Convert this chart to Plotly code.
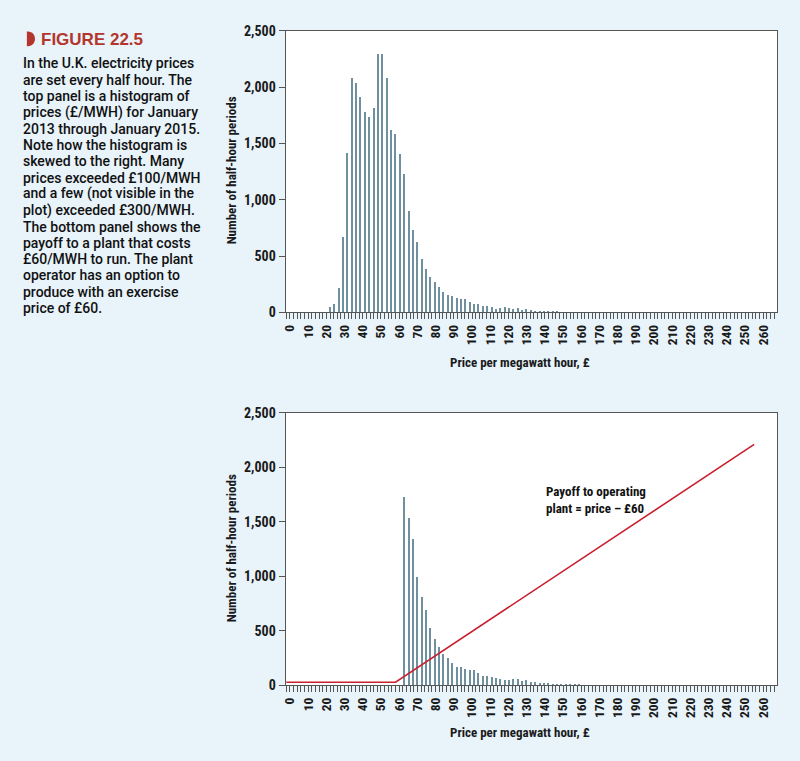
import plotly.graph_objects as go

# ---------------- data ----------------
bin_centers = [21.8, 24.2, 26.6, 29.0, 31.4, 33.8, 36.2, 38.6, 41.0, 43.4,
               45.8, 48.2, 50.6, 53.0, 55.4, 57.8, 60.2, 62.6, 65.0, 67.4,
               69.8, 72.2, 74.6, 77.0, 79.4, 81.8, 84.2, 86.6, 89.0, 91.4,
               93.8, 96.2, 98.6, 101.0, 103.4, 105.8, 108.2, 110.6, 113.0, 115.4,
               117.8, 120.2, 122.6, 125.0, 127.4, 129.8, 132.2, 134.6, 137.0, 139.4,
               141.8, 144.2, 146.6, 149.0, 151.4, 153.8, 156.2, 158.6, 161.0, 163.4]

top_counts = [49, 75, 220, 668, 1418, 2086, 2037, 1916, 1780, 1736,
              1820, 2298, 2298, 2086, 1620, 1586, 1412, 1233, 906, 738,
              631, 477, 385, 315, 269, 229, 185, 153, 148, 130,
              124, 123, 95, 75, 73, 63, 55, 52, 35, 41,
              46, 43, 32, 41, 23, 29, 20, 17, 14, 12,
              9, 17, 6, 5, 5, 4, 3, 3, 2, 2]

bottom_centers = [62.6, 65.0, 67.4, 69.8, 72.2, 74.6, 77.0, 79.4, 81.8, 84.2,
                  86.6, 89.0, 91.4, 93.8, 96.2, 98.6, 101.0, 103.4, 105.8, 108.2,
                  110.6, 113.0, 115.4, 117.8, 120.2, 122.6, 125.0, 127.4, 129.8, 132.2,
                  134.6, 137.0, 139.4, 141.8, 144.2, 146.6, 149.0, 151.4, 153.8, 156.2,
                  158.6, 161.0]
bottom_counts = [1732, 1539, 1345, 997, 807, 693, 522, 427, 348, 291,
                 249, 204, 171, 165, 147, 138, 137, 111, 90, 84,
                 75, 66, 57, 45, 48, 57, 54, 42, 48, 30,
                 30, 22, 24, 18, 15, 12, 10, 8, 6, 5,
                 4, 3]

payoff_price = [-2, 58, 255]
payoff_value = [27, 27, 2210]

caption_title = "FIGURE 22.5"
caption_lines = [
    "In the U.K. electricity prices",
    "are set every half hour. The",
    "top panel is a histogram of",
    "prices (£/MWH) for January",
    "2013 through January 2015.",
    "Note how the histogram is",
    "skewed to the right. Many",
    "prices exceeded £100/MWH",
    "and a few (not visible in the",
    "plot) exceeded £300/MWH.",
    "The bottom panel shows the",
    "payoff to a plant that costs",
    "£60/MWH to run. The plant",
    "operator has an option to",
    "produce with an exercise",
    "price of £60.",
]
payoff_label = "Payoff to operating<br>plant = price – £60"
x_title = "Price per megawatt hour, £"
y_title = "Number of half-hour periods"

# ---------------- style ----------------
W, H = 800, 761
BG = "#e8f3fa"
BAR = "#6e909f"
RED = "#c8202f"
TITLE_RED = "#b3352b"
AXIS = "#555555"
NARROW = "Liberation Sans Narrow, Roboto Condensed, Liberation Sans, Arial"
SANS = "Liberation Sans, Arial, sans-serif"
CAPTION = "Roboto, Liberation Sans, Arial, sans-serif"


def px_x(x):
    return x / W


def px_y(y):
    return 1 - y / H


fig = go.Figure()
fig.add_trace(go.Bar(x=bin_centers, y=top_counts, width=0.75,
                     marker=dict(color=BAR, line=dict(width=0)),
                     xaxis="x", yaxis="y", showlegend=False))
fig.add_trace(go.Bar(x=bottom_centers, y=bottom_counts, width=0.75,
                     marker=dict(color=BAR, line=dict(width=0)),
                     xaxis="x2", yaxis="y2", showlegend=False))
fig.add_trace(go.Scatter(x=payoff_price, y=payoff_value, mode="lines",
                         line=dict(color=RED, width=1.6),
                         xaxis="x2", yaxis="y2", showlegend=False))

xdom = [px_x(283), px_x(777)]
xtick_font = dict(family=NARROW, size=13.5, color="#1a1a1a", weight="bold")
ytick_font = dict(family=NARROW, size=14, color="#1a1a1a", weight="bold")
title_font = dict(family=NARROW, size=13, color="#1a1a1a", weight="bold")


def xaxis(anchor):
    return dict(domain=xdom, anchor=anchor, range=[-2.4, 267.6],
                tick0=0, dtick=10, ticks="outside", ticklen=6, tickwidth=1,
                tickcolor=AXIS, tickangle=-90, tickfont=xtick_font,
                minor=dict(tick0=0, dtick=2, ticks="outside", ticklen=6,
                           tickwidth=1, tickcolor=AXIS, showgrid=False),
                showline=True, linecolor=AXIS, linewidth=1, mirror=True,
                showgrid=False, zeroline=False)


def yaxis(anchor, dom):
    return dict(domain=dom, anchor=anchor, range=[0, 2500],
                tickvals=[0, 500, 1000, 1500, 2000, 2500],
                ticktext=["0", "500", "1,000", "1,500", "2,000", "2,500"],
                ticks="outside", ticklen=6, tickwidth=1, tickcolor=AXIS,
                tickfont=ytick_font,
                showline=True, linecolor=AXIS, linewidth=1, mirror=True,
                showgrid=False, zeroline=False)


annotations = []
annotations.append(dict(xref="paper", yref="paper", x=px_x(35), y=px_y(32),
                        xanchor="left", yanchor="middle", showarrow=False,
                        text=caption_title,
                        font=dict(family=SANS, size=17, color=TITLE_RED, weight="bold")))
for i, line in enumerate(caption_lines):
    annotations.append(dict(xref="paper", yref="paper", x=px_x(17),
                            y=px_y(56.5 + 16.67 * i),
                            xanchor="left", yanchor="middle", showarrow=False,
                            text=line,
                            font=dict(family=CAPTION, size=14, color="#111111", weight=500)))
for xt_y, yt_y in [(362, 166), (740, 552)]:
    annotations.append(dict(xref="paper", yref="paper", x=px_x(519), y=px_y(xt_y),
                            xanchor="center", yanchor="middle", showarrow=False,
                            text=x_title, font=title_font))
    annotations.append(dict(xref="paper", yref="paper", x=px_x(229), y=px_y(yt_y),
                            xanchor="center", yanchor="middle", showarrow=False,
                            textangle=-90, text=y_title, font=title_font))
annotations.append(dict(xref="x2", yref="y2", x=139.5, y=1700,
                        xanchor="left", yanchor="middle", align="left",
                        showarrow=False, text=payoff_label,
                        font=dict(family=NARROW, size=13, color="#111111", weight="bold")))

shapes = [dict(type="path", xref="paper", yref="paper",
               path="M {a},{b} L {c},{b} C {d},{b} {d},{e} {c},{e} L {a},{e} Z".format(
                   a=px_x(23), c=px_x(24), d=px_x(33.5), b=px_y(24), e=px_y(39)),
               fillcolor=TITLE_RED, line=dict(width=0))]

fig.update_layout(
    width=W, height=H,
    margin=dict(l=0, r=0, t=0, b=0),
    paper_bgcolor=BG, plot_bgcolor="white",
    bargap=0,
    xaxis=xaxis("y"),
    yaxis=yaxis("x", [px_y(311), px_y(23.3)]),
    xaxis2=xaxis("y2"),
    yaxis2=yaxis("x2", [px_y(691.7), px_y(413.5)]),
    annotations=annotations,
    shapes=shapes,
    showlegend=False,
)

fig.write_html("out.html", config={"displayModeBar": False},
               post_script="document.body.style.margin='0';document.body.style.overflow='hidden';")
